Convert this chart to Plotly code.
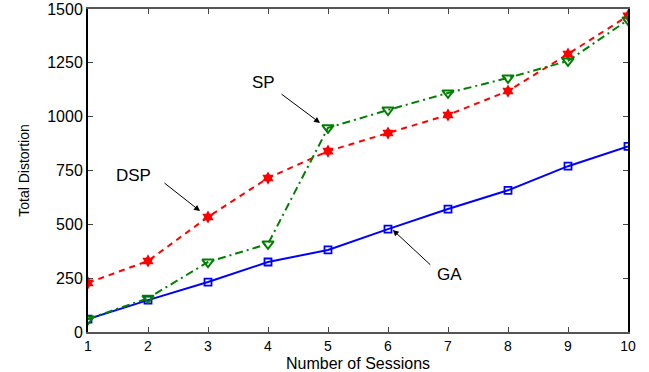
import plotly.graph_objects as go

sessions = [1, 2, 3, 4, 5, 6, 7, 8, 9, 10]
ga = [60, 148, 232, 325, 381, 478, 571, 658, 770, 862]
dsp = [228, 330, 534, 715, 840, 924, 1008, 1119, 1291, 1468]
sp = [60, 157, 325, 409, 948, 1031, 1110, 1180, 1259, 1449]
y_ticks = [0, 250, 500, 750, 1000, 1250, 1500]

fig = go.Figure()
fig.add_trace(go.Scatter(x=sessions, y=ga, mode="lines+markers", name="GA",
                         line=dict(color="#0000ff", width=2),
                         marker=dict(symbol="square-open", size=7, color="#0000ff", line=dict(width=1.8))))
fig.add_trace(go.Scatter(x=sessions, y=dsp, mode="lines+markers", name="DSP",
                         line=dict(color="#ff0000", width=2, dash="6px,5px"),
                         marker=dict(symbol="hexagram", size=10, color="#ff0000")))
fig.add_trace(go.Scatter(x=sessions, y=sp, mode="lines+markers", name="SP",
                         line=dict(color="#008000", width=2, dash="8px,4px,2px,4px"),
                         marker=dict(symbol="triangle-down-open", size=10, color="#008000", line=dict(width=2))))

font_main = "Liberation Sans, Arial, sans-serif"
ann_font = dict(family=font_main, size=17, color="black")

def arrow(x, y, ax, ay):
    fig.add_annotation(x=x, y=y, ax=ax, ay=ay, xref="x", yref="y", axref="x", ayref="y",
                       text="", showarrow=True, arrowhead=2, arrowsize=1.2, arrowwidth=1,
                       arrowcolor="black")

arrow(4.867, 971, 4.2, 1110)
fig.add_annotation(x=3.92, y=1158, text="SP", showarrow=False, font=ann_font)
arrow(2.867, 562, 2.25, 697)
fig.add_annotation(x=1.75, y=729, text="DSP", showarrow=False, font=ann_font)
arrow(6.08, 474, 6.73, 306)
fig.add_annotation(x=7.03, y=269, text="GA", showarrow=False, font=ann_font)

# x-axis title placed just below the tick labels
fig.add_annotation(x=0.5, y=-0.096, xref="paper", yref="paper", yanchor="middle",
                   text="Number of Sessions", showarrow=False,
                   font=dict(family=font_main, size=16, color="black"))

fig.update_layout(
    width=649, height=372,
    margin=dict(l=88, r=21, t=9, b=40, autoexpand=False),
    paper_bgcolor="white", plot_bgcolor="white",
    showlegend=False,
    font=dict(family=font_main, size=16, color="black"),
)
fig.update_xaxes(range=[1, 10], tickvals=sessions, ticks="inside", ticklen=5, mirror="ticks",
                 showline=True, linecolor="#555", linewidth=2, showgrid=False, zeroline=False,
                 automargin=False, tickfont=dict(size=14))
fig.update_yaxes(range=[0, 1500], tickvals=y_ticks, ticks="inside", ticklen=5, mirror="ticks",
                 showline=True, linecolor="black", linewidth=2, showgrid=False, zeroline=False,
                 automargin=False,
                 title=dict(text="Total Distortion", font=dict(size=14), standoff=14),
                 tickfont=dict(size=16))

fig.write_html("out.html")
